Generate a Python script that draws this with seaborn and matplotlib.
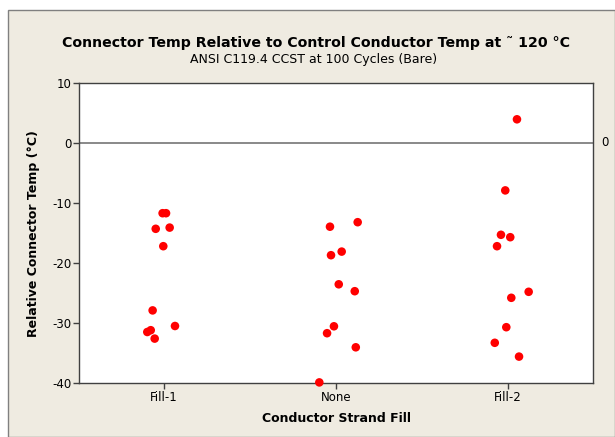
import matplotlib
matplotlib.use("Agg")
import matplotlib.pyplot as plt
import matplotlib.patches as patches
import matplotlib.transforms as mtransforms
import seaborn as sns
import pandas as pd

categories = ["Fill-1", "None", "Fill-2"]

fill1_temp = [-11.7, -11.7, -14.3, -14.1, -17.2, -27.9, -31.5, -31.2, -32.6, -30.5]
fill1_jitter = [-0.008, 0.012, -0.048, 0.033, -0.004, -0.066, -0.097, -0.077, -0.054, 0.064]
none_temp = [-13.95, -13.2, -18.7, -18.1, -23.55, -24.7, -30.55, -31.7, -34.05, -39.9]
none_jitter = [-0.035, 0.126, -0.029, 0.033, 0.016, 0.109, -0.012, -0.052, 0.115, -0.097]
fill2_temp = [3.95, -7.9, -15.3, -15.7, -17.2, -24.8, -25.8, -30.7, -33.3, -35.6]
fill2_jitter = [0.052, -0.016, -0.041, 0.013, -0.064, 0.12, 0.019, -0.01, -0.077, 0.064]

y_ticks = [-40, -30, -20, -10, 0, 10]
ref_value = 0

rows = []
for i, (temps, jit) in enumerate([(fill1_temp, fill1_jitter),
                                  (none_temp, none_jitter),
                                  (fill2_temp, fill2_jitter)]):
    for t, j in zip(temps, jit):
        rows.append({"pos": i + j, "temp": t, "fill": categories[i]})
df = pd.DataFrame(rows)

sns.set_theme(style="white")
plt.rcParams["font.family"] = ["DejaVu Sans"]
plt.rcParams["text.color"] = "black"

fig = plt.figure(figsize=(6.15, 4.37), dpi=100)
fig.patch.set_facecolor("white")
bg = patches.Rectangle((8 / 615, 0), 1 - 8 / 615, 1 - 10 / 437,
                       transform=fig.transFigure, facecolor="#EFEBE1",
                       edgecolor="#808080", linewidth=1.0, zorder=-10)
fig.add_artist(bg)

ax = fig.add_axes([79 / 615, 54 / 437, 514 / 615, 300 / 437])
ax.set_zorder(5)
ax.set_facecolor("white")

sns.scatterplot(data=df, x="pos", y="temp", color="#FF0000", s=38,
                edgecolor="none", ax=ax, zorder=3, clip_on=False)

ax.axhline(ref_value, color="#808080", lw=1.3, zorder=2)
trans = mtransforms.blended_transform_factory(ax.transAxes, ax.transData)
ax.text(1.017, ref_value, "0", transform=trans, ha="left", va="center",
        fontsize=8.5, color="black")

ax.set_xlim(-0.494, 2.494)
ax.set_ylim(-40, 10)
ax.set_xticks([0, 1, 2])
ax.set_xticklabels(categories)
ax.set_yticks(y_ticks)
ax.set_yticklabels([str(v) for v in y_ticks])
ax.tick_params(axis="both", direction="out", length=4, width=1,
               colors="#404040", labelcolor="black", labelsize=8.5, pad=1.5)
ax.tick_params(axis="both", left=True, bottom=True)
for sp in ax.spines.values():
    sp.set_color("#404040")
    sp.set_linewidth(1.0)

ax.set_xlabel("")
ax.set_ylabel("")
fig.text(336 / 615, 1 - 418 / 437, "Conductor Strand Fill", ha="center",
         va="center", fontsize=9, fontweight="bold")
fig.text(34 / 615, 1 - 234 / 437, "Relative Connector Temp (°C)", ha="center",
         va="center", rotation=90, fontsize=9, fontweight="bold")
fig.text(316 / 615, 1 - 43 / 437,
         "Connector Temp Relative to Control Conductor Temp at \u02dc 120 °C",
         ha="center", va="center", fontsize=10.2, fontweight="bold")
fig.text(314 / 615, 1 - 60 / 437, "ANSI C119.4 CCST at 100 Cycles (Bare)",
         ha="center", va="center", fontsize=9)

fig.savefig("out.png", dpi=100)
